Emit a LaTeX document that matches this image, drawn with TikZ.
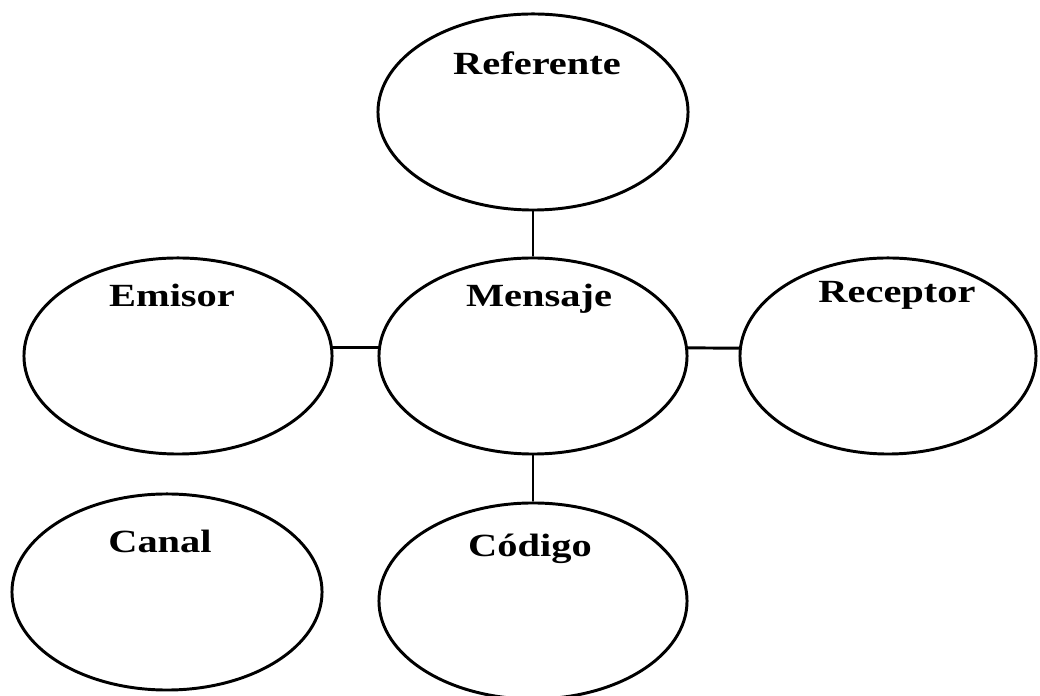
\documentclass[tikz,border=0pt]{standalone}
\usepackage{fontspec}
\usetikzlibrary{shapes.geometric}
\newfontfamily\lblfont[FakeStretch=1.25]{Liberation Serif Bold}
\begin{document}
\begin{tikzpicture}[x=0.025cm, y=0.025cm,
    bubble/.style={draw, ellipse, line width=2.1pt, inner sep=0pt,
        minimum width=7.7cm, minimum height=4.9cm},
    lbl/.style={font=\lblfont\fontsize{23}{27}\selectfont, anchor=base, inner sep=0pt},
    link/.style={line width=2.1pt}]
    \useasboundingbox (0,0) rectangle (1040,696);
    % ellipses
    \node[bubble, minimum width=7.75cm] (referente) at (533,584) {};
    \node[bubble] (mensaje) at (533,340) {};
    \node[bubble] (emisor) at (178,340) {};
    \node[bubble, minimum width=7.4cm] (receptor) at (888,340) {};
    \node[bubble, minimum width=7.75cm] (canal) at (167,104) {};
    \node[bubble] (codigo) at (533,95) {};
    % texts
    \node[lbl] (t-referente) at (537,621) {Referente};
    \node[lbl] (t-emisor) at (172,389) {Emisor};
    \node[lbl] (t-mensaje) at (539,389) {Mensaje};
    \node[lbl] (t-receptor) at (897,393) {Receptor};
    \node[lbl] (t-canal) at (160,143) {Canal};
    \node[lbl] (t-codigo) at (530,139) {Código};
    % links
    \draw[link] (referente.south) -- (mensaje.north);
    \draw[link] (mensaje.south) -- (codigo.north);
    \draw[link] (emisor.3) -- (mensaje.177);
    \draw[link] (mensaje.3) -- (receptor.177);
\end{tikzpicture}
\end{document}
